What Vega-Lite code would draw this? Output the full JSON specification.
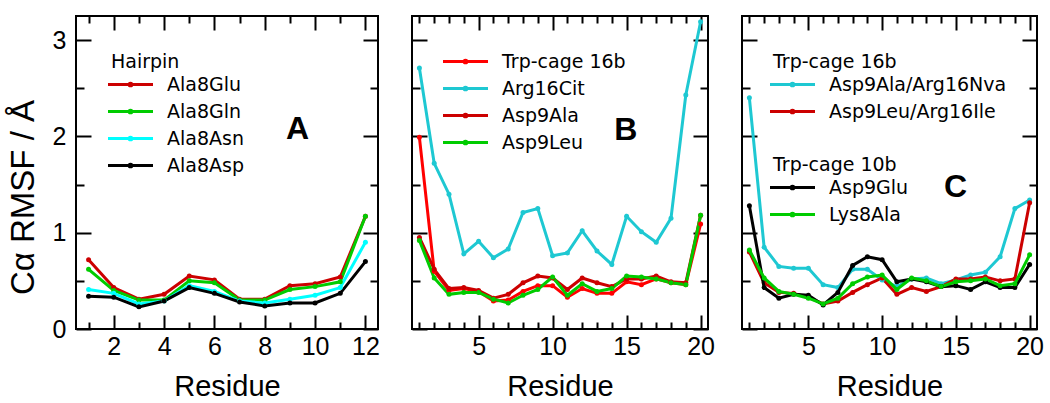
{
"$schema": "https://vega.github.io/schema/vega-lite/v6.json",
"padding": {"left": 6, "top": 14, "right": 5, "bottom": 5},
"spacing": 34,
"bounds": "flush",
"resolve": {"scale": {"color": "independent"}, "legend": {"color": "independent"}},
"config": {
  "font": "Liberation Sans",
  "view": {"stroke": "black", "strokeWidth": 2},
  "axis": {"domain": false, "grid": false, "zindex": 1, "tickColor": "black", "tickWidth": 2, "labelColor": "black", "titleColor": "black", "labelFont": "Liberation Sans", "titleFont": "Liberation Sans", "labelFontSize": 25, "titleFontSize": 29, "titleFontWeight": "normal"},
  "legend": {"orient": "none", "padding": 0, "labelFont": "DejaVu Sans", "titleFont": "DejaVu Sans", "labelFontSize": 19, "titleFontSize": 19, "titleFontWeight": "normal", "labelColor": "black", "titleColor": "black", "symbolType": "M-1.5,0H3.5M0.85,0a0.15,0.15 0 1,0 0.3,0a0.15,0.15 0 1,0 -0.3,0", "symbolSize": 324, "symbolStrokeWidth": 3, "labelOffset": 35, "rowPadding": 6, "titlePadding": 2, "labelLimit": 400}
},
"datasets": {
  "hairpin": [
    {"Residue":1,"RMSF":0.72,"Series":"Ala8Glu"},{"Residue":2,"RMSF":0.43,"Series":"Ala8Glu"},{"Residue":3,"RMSF":0.31,"Series":"Ala8Glu"},{"Residue":4,"RMSF":0.36,"Series":"Ala8Glu"},{"Residue":5,"RMSF":0.55,"Series":"Ala8Glu"},{"Residue":6,"RMSF":0.51,"Series":"Ala8Glu"},{"Residue":7,"RMSF":0.31,"Series":"Ala8Glu"},{"Residue":8,"RMSF":0.31,"Series":"Ala8Glu"},{"Residue":9,"RMSF":0.45,"Series":"Ala8Glu"},{"Residue":10,"RMSF":0.47,"Series":"Ala8Glu"},{"Residue":11,"RMSF":0.54,"Series":"Ala8Glu"},{"Residue":12,"RMSF":1.17,"Series":"Ala8Glu"},
    {"Residue":1,"RMSF":0.62,"Series":"Ala8Gln"},{"Residue":2,"RMSF":0.40,"Series":"Ala8Gln"},{"Residue":3,"RMSF":0.30,"Series":"Ala8Gln"},{"Residue":4,"RMSF":0.30,"Series":"Ala8Gln"},{"Residue":5,"RMSF":0.50,"Series":"Ala8Gln"},{"Residue":6,"RMSF":0.48,"Series":"Ala8Gln"},{"Residue":7,"RMSF":0.30,"Series":"Ala8Gln"},{"Residue":8,"RMSF":0.30,"Series":"Ala8Gln"},{"Residue":9,"RMSF":0.41,"Series":"Ala8Gln"},{"Residue":10,"RMSF":0.44,"Series":"Ala8Gln"},{"Residue":11,"RMSF":0.49,"Series":"Ala8Gln"},{"Residue":12,"RMSF":1.17,"Series":"Ala8Gln"},
    {"Residue":1,"RMSF":0.41,"Series":"Ala8Asn"},{"Residue":2,"RMSF":0.37,"Series":"Ala8Asn"},{"Residue":3,"RMSF":0.26,"Series":"Ala8Asn"},{"Residue":4,"RMSF":0.29,"Series":"Ala8Asn"},{"Residue":5,"RMSF":0.45,"Series":"Ala8Asn"},{"Residue":6,"RMSF":0.39,"Series":"Ala8Asn"},{"Residue":7,"RMSF":0.29,"Series":"Ala8Asn"},{"Residue":8,"RMSF":0.27,"Series":"Ala8Asn"},{"Residue":9,"RMSF":0.31,"Series":"Ala8Asn"},{"Residue":10,"RMSF":0.35,"Series":"Ala8Asn"},{"Residue":11,"RMSF":0.43,"Series":"Ala8Asn"},{"Residue":12,"RMSF":0.90,"Series":"Ala8Asn"},
    {"Residue":1,"RMSF":0.34,"Series":"Ala8Asp"},{"Residue":2,"RMSF":0.33,"Series":"Ala8Asp"},{"Residue":3,"RMSF":0.23,"Series":"Ala8Asp"},{"Residue":4,"RMSF":0.29,"Series":"Ala8Asp"},{"Residue":5,"RMSF":0.43,"Series":"Ala8Asp"},{"Residue":6,"RMSF":0.37,"Series":"Ala8Asp"},{"Residue":7,"RMSF":0.28,"Series":"Ala8Asp"},{"Residue":8,"RMSF":0.24,"Series":"Ala8Asp"},{"Residue":9,"RMSF":0.27,"Series":"Ala8Asp"},{"Residue":10,"RMSF":0.27,"Series":"Ala8Asp"},{"Residue":11,"RMSF":0.37,"Series":"Ala8Asp"},{"Residue":12,"RMSF":0.70,"Series":"Ala8Asp"}
  ],
  "trp": [
    {"Residue":1,"RMSF":1.99,"Series":"Trp-cage 16b"},{"Residue":2,"RMSF":0.60,"Series":"Trp-cage 16b"},{"Residue":3,"RMSF":0.40,"Series":"Trp-cage 16b"},{"Residue":4,"RMSF":0.42,"Series":"Trp-cage 16b"},{"Residue":5,"RMSF":0.39,"Series":"Trp-cage 16b"},{"Residue":6,"RMSF":0.29,"Series":"Trp-cage 16b"},{"Residue":7,"RMSF":0.30,"Series":"Trp-cage 16b"},{"Residue":8,"RMSF":0.39,"Series":"Trp-cage 16b"},{"Residue":9,"RMSF":0.45,"Series":"Trp-cage 16b"},{"Residue":10,"RMSF":0.45,"Series":"Trp-cage 16b"},{"Residue":11,"RMSF":0.33,"Series":"Trp-cage 16b"},{"Residue":12,"RMSF":0.42,"Series":"Trp-cage 16b"},{"Residue":13,"RMSF":0.37,"Series":"Trp-cage 16b"},{"Residue":14,"RMSF":0.37,"Series":"Trp-cage 16b"},{"Residue":15,"RMSF":0.49,"Series":"Trp-cage 16b"},{"Residue":16,"RMSF":0.46,"Series":"Trp-cage 16b"},{"Residue":17,"RMSF":0.52,"Series":"Trp-cage 16b"},{"Residue":18,"RMSF":0.48,"Series":"Trp-cage 16b"},{"Residue":19,"RMSF":0.46,"Series":"Trp-cage 16b"},{"Residue":20,"RMSF":1.09,"Series":"Trp-cage 16b"},
    {"Residue":1,"RMSF":2.71,"Series":"Arg16Cit"},{"Residue":2,"RMSF":1.72,"Series":"Arg16Cit"},{"Residue":3,"RMSF":1.40,"Series":"Arg16Cit"},{"Residue":4,"RMSF":0.78,"Series":"Arg16Cit"},{"Residue":5,"RMSF":0.91,"Series":"Arg16Cit"},{"Residue":6,"RMSF":0.74,"Series":"Arg16Cit"},{"Residue":7,"RMSF":0.83,"Series":"Arg16Cit"},{"Residue":8,"RMSF":1.21,"Series":"Arg16Cit"},{"Residue":9,"RMSF":1.25,"Series":"Arg16Cit"},{"Residue":10,"RMSF":0.76,"Series":"Arg16Cit"},{"Residue":11,"RMSF":0.79,"Series":"Arg16Cit"},{"Residue":12,"RMSF":1.02,"Series":"Arg16Cit"},{"Residue":13,"RMSF":0.81,"Series":"Arg16Cit"},{"Residue":14,"RMSF":0.67,"Series":"Arg16Cit"},{"Residue":15,"RMSF":1.17,"Series":"Arg16Cit"},{"Residue":16,"RMSF":1.01,"Series":"Arg16Cit"},{"Residue":17,"RMSF":0.90,"Series":"Arg16Cit"},{"Residue":18,"RMSF":1.15,"Series":"Arg16Cit"},{"Residue":19,"RMSF":2.43,"Series":"Arg16Cit"},{"Residue":20,"RMSF":3.19,"Series":"Arg16Cit"},
    {"Residue":1,"RMSF":0.95,"Series":"Asp9Ala"},{"Residue":2,"RMSF":0.62,"Series":"Asp9Ala"},{"Residue":3,"RMSF":0.42,"Series":"Asp9Ala"},{"Residue":4,"RMSF":0.43,"Series":"Asp9Ala"},{"Residue":5,"RMSF":0.40,"Series":"Asp9Ala"},{"Residue":6,"RMSF":0.32,"Series":"Asp9Ala"},{"Residue":7,"RMSF":0.36,"Series":"Asp9Ala"},{"Residue":8,"RMSF":0.48,"Series":"Asp9Ala"},{"Residue":9,"RMSF":0.55,"Series":"Asp9Ala"},{"Residue":10,"RMSF":0.53,"Series":"Asp9Ala"},{"Residue":11,"RMSF":0.41,"Series":"Asp9Ala"},{"Residue":12,"RMSF":0.53,"Series":"Asp9Ala"},{"Residue":13,"RMSF":0.48,"Series":"Asp9Ala"},{"Residue":14,"RMSF":0.44,"Series":"Asp9Ala"},{"Residue":15,"RMSF":0.52,"Series":"Asp9Ala"},{"Residue":16,"RMSF":0.52,"Series":"Asp9Ala"},{"Residue":17,"RMSF":0.55,"Series":"Asp9Ala"},{"Residue":18,"RMSF":0.49,"Series":"Asp9Ala"},{"Residue":19,"RMSF":0.48,"Series":"Asp9Ala"},{"Residue":20,"RMSF":1.18,"Series":"Asp9Ala"},
    {"Residue":1,"RMSF":0.92,"Series":"Asp9Leu"},{"Residue":2,"RMSF":0.53,"Series":"Asp9Leu"},{"Residue":3,"RMSF":0.36,"Series":"Asp9Leu"},{"Residue":4,"RMSF":0.38,"Series":"Asp9Leu"},{"Residue":5,"RMSF":0.38,"Series":"Asp9Leu"},{"Residue":6,"RMSF":0.31,"Series":"Asp9Leu"},{"Residue":7,"RMSF":0.27,"Series":"Asp9Leu"},{"Residue":8,"RMSF":0.35,"Series":"Asp9Leu"},{"Residue":9,"RMSF":0.41,"Series":"Asp9Leu"},{"Residue":10,"RMSF":0.54,"Series":"Asp9Leu"},{"Residue":11,"RMSF":0.35,"Series":"Asp9Leu"},{"Residue":12,"RMSF":0.47,"Series":"Asp9Leu"},{"Residue":13,"RMSF":0.39,"Series":"Asp9Leu"},{"Residue":14,"RMSF":0.42,"Series":"Asp9Leu"},{"Residue":15,"RMSF":0.55,"Series":"Asp9Leu"},{"Residue":16,"RMSF":0.54,"Series":"Asp9Leu"},{"Residue":17,"RMSF":0.52,"Series":"Asp9Leu"},{"Residue":18,"RMSF":0.48,"Series":"Asp9Leu"},{"Residue":19,"RMSF":0.46,"Series":"Asp9Leu"},{"Residue":20,"RMSF":1.18,"Series":"Asp9Leu"}
  ],
  "c16": [
    {"Residue":1,"RMSF":2.40,"Series":"Asp9Ala/Arg16Nva"},{"Residue":2,"RMSF":0.85,"Series":"Asp9Ala/Arg16Nva"},{"Residue":3,"RMSF":0.65,"Series":"Asp9Ala/Arg16Nva"},{"Residue":4,"RMSF":0.63,"Series":"Asp9Ala/Arg16Nva"},{"Residue":5,"RMSF":0.63,"Series":"Asp9Ala/Arg16Nva"},{"Residue":6,"RMSF":0.46,"Series":"Asp9Ala/Arg16Nva"},{"Residue":7,"RMSF":0.43,"Series":"Asp9Ala/Arg16Nva"},{"Residue":8,"RMSF":0.62,"Series":"Asp9Ala/Arg16Nva"},{"Residue":9,"RMSF":0.62,"Series":"Asp9Ala/Arg16Nva"},{"Residue":10,"RMSF":0.51,"Series":"Asp9Ala/Arg16Nva"},{"Residue":11,"RMSF":0.44,"Series":"Asp9Ala/Arg16Nva"},{"Residue":12,"RMSF":0.52,"Series":"Asp9Ala/Arg16Nva"},{"Residue":13,"RMSF":0.53,"Series":"Asp9Ala/Arg16Nva"},{"Residue":14,"RMSF":0.47,"Series":"Asp9Ala/Arg16Nva"},{"Residue":15,"RMSF":0.51,"Series":"Asp9Ala/Arg16Nva"},{"Residue":16,"RMSF":0.56,"Series":"Asp9Ala/Arg16Nva"},{"Residue":17,"RMSF":0.59,"Series":"Asp9Ala/Arg16Nva"},{"Residue":18,"RMSF":0.75,"Series":"Asp9Ala/Arg16Nva"},{"Residue":19,"RMSF":1.25,"Series":"Asp9Ala/Arg16Nva"},{"Residue":20,"RMSF":1.34,"Series":"Asp9Ala/Arg16Nva"},
    {"Residue":1,"RMSF":0.80,"Series":"Asp9Leu/Arg16Ile"},{"Residue":2,"RMSF":0.48,"Series":"Asp9Leu/Arg16Ile"},{"Residue":3,"RMSF":0.38,"Series":"Asp9Leu/Arg16Ile"},{"Residue":4,"RMSF":0.37,"Series":"Asp9Leu/Arg16Ile"},{"Residue":5,"RMSF":0.33,"Series":"Asp9Leu/Arg16Ile"},{"Residue":6,"RMSF":0.26,"Series":"Asp9Leu/Arg16Ile"},{"Residue":7,"RMSF":0.29,"Series":"Asp9Leu/Arg16Ile"},{"Residue":8,"RMSF":0.38,"Series":"Asp9Leu/Arg16Ile"},{"Residue":9,"RMSF":0.46,"Series":"Asp9Leu/Arg16Ile"},{"Residue":10,"RMSF":0.53,"Series":"Asp9Leu/Arg16Ile"},{"Residue":11,"RMSF":0.36,"Series":"Asp9Leu/Arg16Ile"},{"Residue":12,"RMSF":0.43,"Series":"Asp9Leu/Arg16Ile"},{"Residue":13,"RMSF":0.39,"Series":"Asp9Leu/Arg16Ile"},{"Residue":14,"RMSF":0.44,"Series":"Asp9Leu/Arg16Ile"},{"Residue":15,"RMSF":0.52,"Series":"Asp9Leu/Arg16Ile"},{"Residue":16,"RMSF":0.52,"Series":"Asp9Leu/Arg16Ile"},{"Residue":17,"RMSF":0.54,"Series":"Asp9Leu/Arg16Ile"},{"Residue":18,"RMSF":0.50,"Series":"Asp9Leu/Arg16Ile"},{"Residue":19,"RMSF":0.52,"Series":"Asp9Leu/Arg16Ile"},{"Residue":20,"RMSF":1.31,"Series":"Asp9Leu/Arg16Ile"}
  ],
  "c10": [
    {"Residue":1,"RMSF":1.28,"Series":"Asp9Glu"},{"Residue":2,"RMSF":0.43,"Series":"Asp9Glu"},{"Residue":3,"RMSF":0.32,"Series":"Asp9Glu"},{"Residue":4,"RMSF":0.36,"Series":"Asp9Glu"},{"Residue":5,"RMSF":0.35,"Series":"Asp9Glu"},{"Residue":6,"RMSF":0.25,"Series":"Asp9Glu"},{"Residue":7,"RMSF":0.38,"Series":"Asp9Glu"},{"Residue":8,"RMSF":0.66,"Series":"Asp9Glu"},{"Residue":9,"RMSF":0.75,"Series":"Asp9Glu"},{"Residue":10,"RMSF":0.72,"Series":"Asp9Glu"},{"Residue":11,"RMSF":0.49,"Series":"Asp9Glu"},{"Residue":12,"RMSF":0.52,"Series":"Asp9Glu"},{"Residue":13,"RMSF":0.49,"Series":"Asp9Glu"},{"Residue":14,"RMSF":0.44,"Series":"Asp9Glu"},{"Residue":15,"RMSF":0.45,"Series":"Asp9Glu"},{"Residue":16,"RMSF":0.41,"Series":"Asp9Glu"},{"Residue":17,"RMSF":0.49,"Series":"Asp9Glu"},{"Residue":18,"RMSF":0.43,"Series":"Asp9Glu"},{"Residue":19,"RMSF":0.43,"Series":"Asp9Glu"},{"Residue":20,"RMSF":0.67,"Series":"Asp9Glu"},
    {"Residue":1,"RMSF":0.82,"Series":"Lys8Ala"},{"Residue":2,"RMSF":0.53,"Series":"Lys8Ala"},{"Residue":3,"RMSF":0.39,"Series":"Lys8Ala"},{"Residue":4,"RMSF":0.36,"Series":"Lys8Ala"},{"Residue":5,"RMSF":0.32,"Series":"Lys8Ala"},{"Residue":6,"RMSF":0.26,"Series":"Lys8Ala"},{"Residue":7,"RMSF":0.32,"Series":"Lys8Ala"},{"Residue":8,"RMSF":0.47,"Series":"Lys8Ala"},{"Residue":9,"RMSF":0.54,"Series":"Lys8Ala"},{"Residue":10,"RMSF":0.56,"Series":"Lys8Ala"},{"Residue":11,"RMSF":0.41,"Series":"Lys8Ala"},{"Residue":12,"RMSF":0.53,"Series":"Lys8Ala"},{"Residue":13,"RMSF":0.50,"Series":"Lys8Ala"},{"Residue":14,"RMSF":0.44,"Series":"Lys8Ala"},{"Residue":15,"RMSF":0.49,"Series":"Lys8Ala"},{"Residue":16,"RMSF":0.50,"Series":"Lys8Ala"},{"Residue":17,"RMSF":0.52,"Series":"Lys8Ala"},{"Residue":18,"RMSF":0.45,"Series":"Lys8Ala"},{"Residue":19,"RMSF":0.47,"Series":"Lys8Ala"},{"Residue":20,"RMSF":0.77,"Series":"Lys8Ala"}
  ]
},
"hconcat": [
  {
    "width": 302, "height": 313,
    "layer": [
      {
        "data": {"name": "hairpin"},
        "mark": {"type": "line", "strokeWidth": 3, "point": {"filled": true, "size": 25}},
        "encoding": {
          "x": {"field": "Residue", "type": "quantitative", "scale": {"domain": [0.5, 12.5], "nice": false, "zero": false},
                "axis": {"orient": "bottom", "title": "Residue", "values": [1,2,3,4,5,6,7,8,9,10,11,12], "labelExpr": "datum.value % 2 === 0 ? '' + datum.value : ''", "tickSize": {"condition": {"test": "datum.value % 2 === 0", "value": -14}, "value": -7}, "labelPadding": 19, "titlePadding": 13}},
          "y": {"field": "RMSF", "type": "quantitative", "scale": {"domain": [0, 3.25], "nice": false},
                "axis": {"orient": "left", "title": "Cα RMSF / Å", "titleFontSize": 33, "titleX": -43, "titleY": 181, "titleBaseline": "alphabetic", "values": [0,0.5,1,1.5,2,2.5,3], "labelExpr": "datum.value % 1 === 0 ? '' + datum.value : ''", "tickSize": {"condition": {"test": "datum.value % 1 === 0", "value": -15}, "value": -8}, "labelPadding": 25}},
          "color": {"field": "Series", "type": "nominal", "scale": {"domain": ["Ala8Glu","Ala8Gln","Ala8Asn","Ala8Asp"], "range": ["#cc0000","#00cc00","#00ffff","#000000"]},
                    "legend": {"title": "Hairpin", "legendX": 35, "legendY": 37}}
        }
      },
      {
        "data": {"values": [{"panel": "A"}]},
        "mark": {"type": "text", "fontSize": 32, "fontWeight": "bold", "font": "Liberation Sans", "color": "black"},
        "encoding": {
          "x": {"datum": 9.3, "type": "quantitative", "scale": {"domain": [0.5, 12.5], "nice": false, "zero": false},
                "axis": {"orient": "top", "title": null, "labels": false, "values": [1,2,3,4,5,6,7,8,9,10,11,12], "tickSize": {"condition": {"test": "datum.value % 2 === 0", "value": -14}, "value": -7}}},
          "y": {"datum": 2.08, "type": "quantitative", "scale": {"domain": [0, 3.25], "nice": false},
                "axis": {"orient": "right", "title": null, "labels": false, "values": [0,0.5,1,1.5,2,2.5,3], "tickSize": {"condition": {"test": "datum.value % 1 === 0", "value": -15}, "value": -8}}},
          "text": {"field": "panel"}
        }
      }
    ],
    "resolve": {"scale": {"x": "independent", "y": "independent"}}
  },
  {
    "width": 296, "height": 313,
    "layer": [
      {
        "data": {"name": "trp"},
        "mark": {"type": "line", "strokeWidth": 3, "point": {"filled": true, "size": 25}},
        "encoding": {
          "x": {"field": "Residue", "type": "quantitative", "scale": {"domain": [0.5, 20.5], "nice": false, "zero": false},
                "axis": {"orient": "bottom", "title": "Residue", "values": [1,2,3,4,5,6,7,8,9,10,11,12,13,14,15,16,17,18,19,20], "labelExpr": "datum.value % 5 === 0 ? '' + datum.value : ''", "tickSize": {"condition": {"test": "datum.value % 5 === 0", "value": -14}, "value": -7}, "labelPadding": 19, "titlePadding": 13}},
          "y": {"field": "RMSF", "type": "quantitative", "scale": {"domain": [0, 3.25], "nice": false},
                "axis": {"orient": "left", "title": null, "labels": false, "values": [0,0.5,1,1.5,2,2.5,3], "tickSize": {"condition": {"test": "datum.value % 1 === 0", "value": -15}, "value": -8}}},
          "color": {"field": "Series", "type": "nominal", "scale": {"domain": ["Trp-cage 16b","Arg16Cit","Asp9Ala","Asp9Leu"], "range": ["#ff0000","#1ec8d2","#cc0000","#00cc00"]},
                    "legend": {"title": null, "legendX": 34, "legendY": 35}}
        }
      },
      {
        "data": {"values": [{"panel": "B"}]},
        "mark": {"type": "text", "fontSize": 32, "fontWeight": "bold", "font": "Liberation Sans", "color": "black"},
        "encoding": {
          "x": {"datum": 14.95, "type": "quantitative", "scale": {"domain": [0.5, 20.5], "nice": false, "zero": false},
                "axis": {"orient": "top", "title": null, "labels": false, "values": [1,2,3,4,5,6,7,8,9,10,11,12,13,14,15,16,17,18,19,20], "tickSize": {"condition": {"test": "datum.value % 5 === 0", "value": -14}, "value": -7}}},
          "y": {"datum": 2.07, "type": "quantitative", "scale": {"domain": [0, 3.25], "nice": false},
                "axis": {"orient": "right", "title": null, "labels": false, "values": [0,0.5,1,1.5,2,2.5,3], "tickSize": {"condition": {"test": "datum.value % 1 === 0", "value": -15}, "value": -8}}},
          "text": {"field": "panel"}
        }
      }
    ],
    "resolve": {"scale": {"x": "independent", "y": "independent"}}
  },
  {
    "width": 295, "height": 313,
    "layer": [
      {
        "layer": [
          {
            "data": {"name": "c16"},
            "mark": {"type": "line", "strokeWidth": 3, "point": {"filled": true, "size": 25}},
            "encoding": {
              "x": {"field": "Residue", "type": "quantitative", "scale": {"domain": [0.5, 20.5], "nice": false, "zero": false},
                    "axis": {"orient": "bottom", "title": "Residue", "values": [1,2,3,4,5,6,7,8,9,10,11,12,13,14,15,16,17,18,19,20], "labelExpr": "datum.value % 5 === 0 ? '' + datum.value : ''", "tickSize": {"condition": {"test": "datum.value % 5 === 0", "value": -14}, "value": -7}, "labelPadding": 19, "titlePadding": 13}},
              "y": {"field": "RMSF", "type": "quantitative", "scale": {"domain": [0, 3.25], "nice": false},
                    "axis": {"orient": "left", "title": null, "labels": false, "values": [0,0.5,1,1.5,2,2.5,3], "tickSize": {"condition": {"test": "datum.value % 1 === 0", "value": -15}, "value": -8}}},
              "color": {"field": "Series", "type": "nominal", "scale": {"domain": ["Asp9Ala/Arg16Nva","Asp9Leu/Arg16Ile"], "range": ["#1ec8d2","#cc0000"]},
                        "legend": {"title": "Trp-cage 16b", "legendX": 31, "legendY": 37}}
            }
          },
          {
            "data": {"name": "c10"},
            "mark": {"type": "line", "strokeWidth": 3, "point": {"filled": true, "size": 25}},
            "encoding": {
              "x": {"field": "Residue", "type": "quantitative", "scale": {"domain": [0.5, 20.5], "nice": false, "zero": false},
                    "axis": {"orient": "bottom", "title": "Residue", "values": [1,2,3,4,5,6,7,8,9,10,11,12,13,14,15,16,17,18,19,20], "labelExpr": "datum.value % 5 === 0 ? '' + datum.value : ''", "tickSize": {"condition": {"test": "datum.value % 5 === 0", "value": -14}, "value": -7}, "labelPadding": 19, "titlePadding": 13}},
              "y": {"field": "RMSF", "type": "quantitative", "scale": {"domain": [0, 3.25], "nice": false},
                    "axis": {"orient": "left", "title": null, "labels": false, "values": [0,0.5,1,1.5,2,2.5,3], "tickSize": {"condition": {"test": "datum.value % 1 === 0", "value": -15}, "value": -8}}},
              "color": {"field": "Series", "type": "nominal", "scale": {"domain": ["Asp9Glu","Lys8Ala"], "range": ["#000000","#00cc00"]},
                        "legend": {"title": "Trp-cage 10b", "legendX": 31, "legendY": 140}}
            }
          }
        ],
        "resolve": {"scale": {"color": "independent"}, "legend": {"color": "independent"}}
      },
      {
        "data": {"values": [{"panel": "C"}]},
        "mark": {"type": "text", "fontSize": 32, "fontWeight": "bold", "font": "Liberation Sans", "color": "black"},
        "encoding": {
          "x": {"datum": 14.98, "type": "quantitative", "scale": {"domain": [0.5, 20.5], "nice": false, "zero": false},
                "axis": {"orient": "top", "title": null, "labels": false, "values": [1,2,3,4,5,6,7,8,9,10,11,12,13,14,15,16,17,18,19,20], "tickSize": {"condition": {"test": "datum.value % 5 === 0", "value": -14}, "value": -7}}},
          "y": {"datum": 1.47, "type": "quantitative", "scale": {"domain": [0, 3.25], "nice": false},
                "axis": {"orient": "right", "title": null, "labels": false, "values": [0,0.5,1,1.5,2,2.5,3], "tickSize": {"condition": {"test": "datum.value % 1 === 0", "value": -15}, "value": -8}}},
          "text": {"field": "panel"}
        }
      }
    ],
    "resolve": {"scale": {"x": "independent", "y": "independent"}}
  }
]
}
